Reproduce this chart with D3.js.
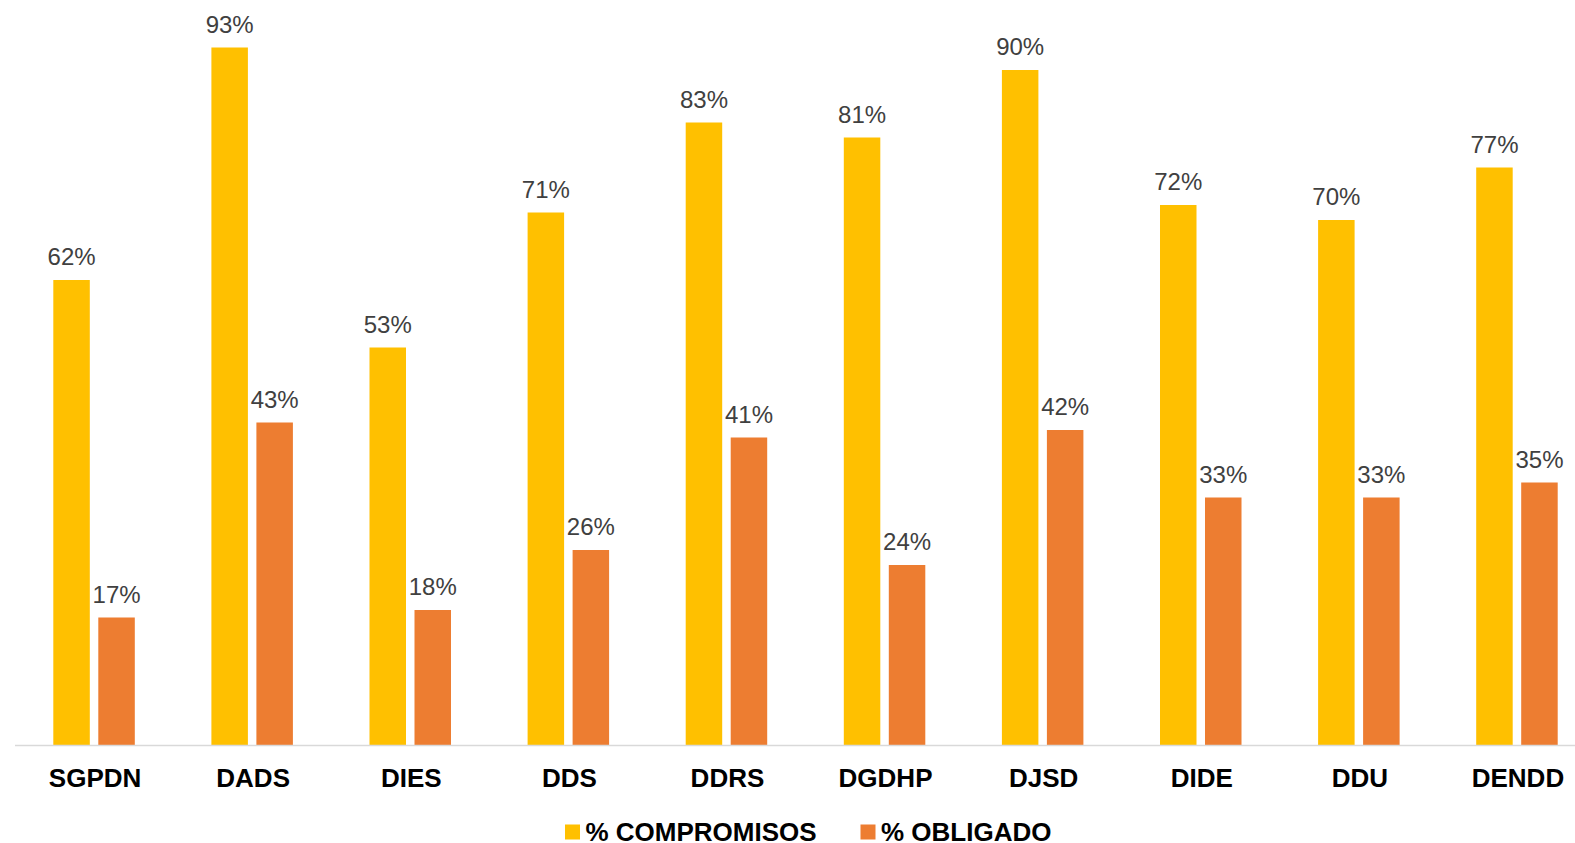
<!DOCTYPE html>
<html>
<head>
<meta charset="utf-8">
<script src="https://cdn.jsdelivr.net/npm/d3@7"></script>
<style>
  html, body { margin: 0; padding: 0; background: #fff; overflow: hidden; }
  svg { display: block; font-family: "Liberation Sans", Arial, sans-serif; }
</style>
</head>
<body>
<svg id="chart" width="1575" height="843"></svg>
<script>
// Budget execution by unit
const categories = ["SGPDN", "DADS", "DIES", "DDS", "DDRS", "DGDHP", "DJSD", "DIDE", "DDU", "DENDD"];
const compromisos = [62, 93, 53, 71, 83, 81, 90, 72, 70, 77];
const obligado = [17, 43, 18, 26, 41, 24, 42, 33, 33, 35];
const seriesNames = ["% COMPROMISOS", "% OBLIGADO"];
const seriesColors = ["#FFC000", "#ED7D31"];

const svg = d3.select("#chart");
const baseY = 745;

const x = d3.scaleBand().domain(categories).range([15, 1596]).padding(0);
const y = d3.scaleLinear().domain([0, 100]).range([baseY, baseY - 750]);

// Two bars per category, placed either side of the group centre
const barW = 36.5;
const gap = 8.5;
const offsets = [-(gap / 2) - barW, gap / 2];

const rows = categories.map((c, i) => ({ cat: c, vals: [compromisos[i], obligado[i]] }));

const groups = svg.append("g").selectAll("g.cat")
  .data(rows).join("g")
  .attr("class", "cat")
  .attr("transform", d => `translate(${x(d.cat) + x.bandwidth() / 2},0)`);

groups.selectAll("rect")
  .data(d => d.vals.map((v, k) => ({ v, k })))
  .join("rect")
  .attr("x", d => offsets[d.k])
  .attr("width", barW)
  .attr("y", d => y(d.v))
  .attr("height", d => baseY - y(d.v))
  .attr("fill", d => seriesColors[d.k]);

groups.selectAll("text.val")
  .data(d => d.vals.map((v, k) => ({ v, k })))
  .join("text")
  .attr("class", "val")
  .attr("x", d => offsets[d.k] + barW / 2)
  .attr("y", d => y(d.v) - 15)
  .attr("text-anchor", "middle")
  .attr("font-size", 24)
  .attr("fill", "#404040")
  .text(d => d.v + "%");

// Category axis line
svg.append("line")
  .attr("x1", 15).attr("x2", 1575)
  .attr("y1", baseY + 0.5).attr("y2", baseY + 0.5)
  .attr("stroke", "#d9d9d9").attr("stroke-width", 1.5);

// Category labels
svg.append("g").selectAll("text")
  .data(categories).join("text")
  .attr("x", d => x(d) + x.bandwidth() / 2 + 1)
  .attr("y", 786.5)
  .attr("text-anchor", "middle")
  .attr("font-size", 26)
  .attr("font-weight", "bold")
  .attr("fill", "#000")
  .text(d => d);

// Legend
const legendPos = [565, 860.5];
const legend = svg.append("g").selectAll("g")
  .data(seriesNames).join("g")
  .attr("transform", (d, i) => `translate(${legendPos[i]},0)`);
legend.append("rect")
  .attr("x", 0).attr("y", 824.5)
  .attr("width", 15).attr("height", 15)
  .attr("fill", (d, i) => seriesColors[i]);
legend.append("text")
  .attr("x", 20.5).attr("y", 840.5)
  .attr("font-size", 26)
  .attr("font-weight", "bold")
  .attr("fill", "#000")
  .text(d => d);
</script>
</body>
</html>
